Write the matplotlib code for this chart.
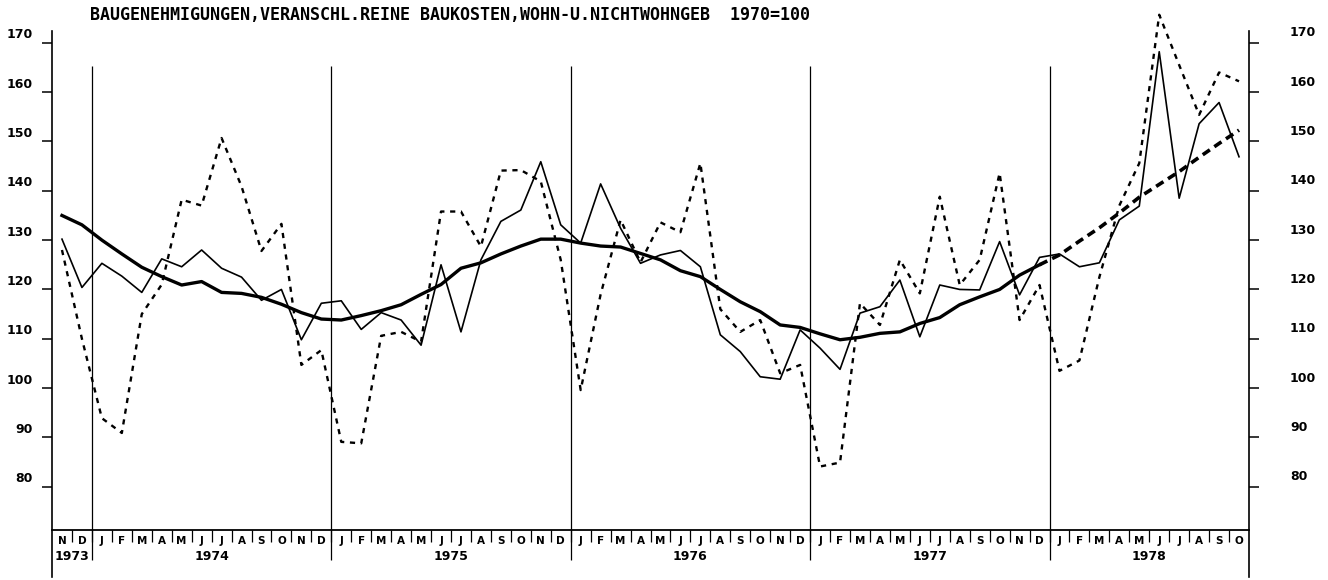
import numpy as np
import matplotlib
matplotlib.use("Agg")
import matplotlib.pyplot as plt
import matplotlib.transforms as mtransforms

# ---------- data: Nov 1973 .. Oct 1978, one value per month ----------
title = "BAUGENEHMIGUNGEN,VERANSCHL.REINE BAUKOSTEN,WOHN-U.NICHTWOHNGEB  1970=100"

month_letters = ["N", "D"] + list("JFMAMJJASOND") * 4 + list("JFMAMJJASO")
year_labels = ["1973", "1974", "1975", "1976", "1977", "1978"]

# original values (dotted)
original = [128.0, 110.0,
            93.9, 90.9, 115.0, 121.0, 138.2, 137.0, 150.7, 140.9, 127.8, 133.3, 104.7, 107.7,
            89.1, 88.8, 110.6, 111.4, 109.4, 135.8, 135.8, 128.7, 144.1, 144.2, 141.9, 126.0,
            99.6, 119.0, 134.1, 125.5, 133.6, 131.6, 145.6, 116.0, 111.4, 113.8, 103.0, 104.7,
            84.1, 84.9, 117.2, 112.8, 126.0, 119.2, 138.8, 120.9, 126.0, 143.6, 113.8, 120.9,
            103.5, 105.6, 122.5, 137.0, 145.6, 175.7, 165.5, 155.4, 164.0, 162.2]

# seasonally adjusted (thin solid)
adjusted = [130.2, 120.4,
            125.3, 122.7, 119.4, 126.2, 124.6, 128.0, 124.3, 122.5, 117.8, 120.0, 109.8, 117.2,
            117.7, 111.9, 115.3, 113.8, 108.7, 125.0, 111.4, 126.0, 133.8, 136.1, 145.9, 133.1,
            129.4, 141.4, 132.4, 125.3, 127.0, 127.9, 124.6, 110.8, 107.4, 102.3, 101.8, 111.8,
            108.1, 103.8, 115.2, 116.5, 121.9, 110.4, 120.9, 120.0, 119.9, 129.7, 118.9, 126.5,
            127.2, 124.6, 125.4, 134.1, 136.9, 168.2, 138.5, 153.6, 157.9, 146.9]

# trend-cycle (thick solid) up to Dec 1977
trend = [135.0, 133.1,
         130.0, 127.2, 124.5, 122.6, 120.9, 121.6, 119.4, 119.2, 118.4, 117.0, 115.3, 114.0,
         113.8, 114.7, 115.7, 116.9, 119.0, 121.0, 124.3, 125.4, 127.2, 128.8, 130.2, 130.2,
         129.4, 128.8, 128.6, 127.3, 126.0, 123.8, 122.6, 120.0, 117.5, 115.5, 112.8, 112.3,
         111.0, 109.8, 110.3, 111.1, 111.4, 113.1, 114.3, 116.9, 118.5, 120.0, 122.9, 125.0]

# trend projection (thick dashed) Jan .. Oct 1978
projection = [127.0, 129.8, 132.5, 135.5, 138.7, 141.3, 143.9, 146.8, 149.6, 152.3]

yticks = [80, 90, 100, 110, 120, 130, 140, 150, 160, 170]

# ---------- layout ----------
W, H, DPI = 1328, 580, 100
base_y = 71.2          # value where the month strip sits
fig = plt.figure(figsize=(W / DPI, H / DPI), dpi=DPI)
ax = fig.add_axes([52 / W, 3 / H, 1197 / W, 546 / H])
ax.set_xlim(0, len(month_letters))
ax.set_ylim(61.7, 172.4)

n = len(month_letters)
x = np.arange(n) + 0.5
n_tr = len(trend)

ax.plot(x, original, color="k", lw=1.7, ls=(0, (2.2, 2.4)), clip_on=False)
ax.plot(x, adjusted, color="k", lw=1.2, clip_on=False)
ax.plot(x[:n_tr], trend, color="k", lw=2.4, solid_joinstyle="round")
ax.plot(x[n_tr - 1:], [trend[-1]] + projection, color="k", lw=2.6,
        ls=(0, (2.4, 1.5)))

# year boundaries
year_start = [0] + [i for i, m in enumerate(month_letters) if m == "J" and
                    (i == 0 or month_letters[i - 1] == "D")]
ax.vlines(year_start[1:], 65.1, 165.4, color="k", lw=0.9)

# month strip
ax.plot([0, n], [base_y, base_y], color="k", lw=1.3, clip_on=False)
ax.vlines(np.arange(1, n), 68.8, base_y, color="k", lw=0.9)
for i, m in enumerate(month_letters):
    ax.text(i + 0.5, 69.0, m, ha="center", va="center", fontsize=7.5,
            fontweight="bold")
year_end = year_start[1:] + [n]
for lab, a, b in zip(year_labels, year_start, year_end):
    ax.text((a + b) / 2, 65.8, lab, ha="center", va="center", fontsize=9,
            fontweight="bold")

# axes frame
for s in ["top", "bottom"]:
    ax.spines[s].set_visible(False)
for s in ["left", "right"]:
    ax.spines[s].set_linewidth(1.2)
ax.set_xticks([])
ax.set_yticks(yticks)
ax.tick_params(axis="y", which="both", left=True, right=True, direction="out",
               length=7, width=1.1, labelleft=False, labelright=False)

ytr = ax.get_yaxis_transform()
left_tr = ytr + mtransforms.ScaledTranslation(-19 / DPI, 8 / DPI, fig.dpi_scale_trans)
right_tr = ytr + mtransforms.ScaledTranslation(41 / DPI, 10 / DPI, fig.dpi_scale_trans)
for v in yticks:
    ax.text(0, v, str(v), transform=left_tr, ha="right", va="center",
            fontsize=9, fontweight="bold")
    ax.text(1, v, str(v), transform=right_tr, ha="left", va="center",
            fontsize=9, fontweight="bold")

fig.text(90 / W, 1 - 15 / H, title, ha="left", va="center", fontsize=12,
         fontweight="bold", family="DejaVu Sans Mono")

fig.savefig("out.png", dpi=DPI)
